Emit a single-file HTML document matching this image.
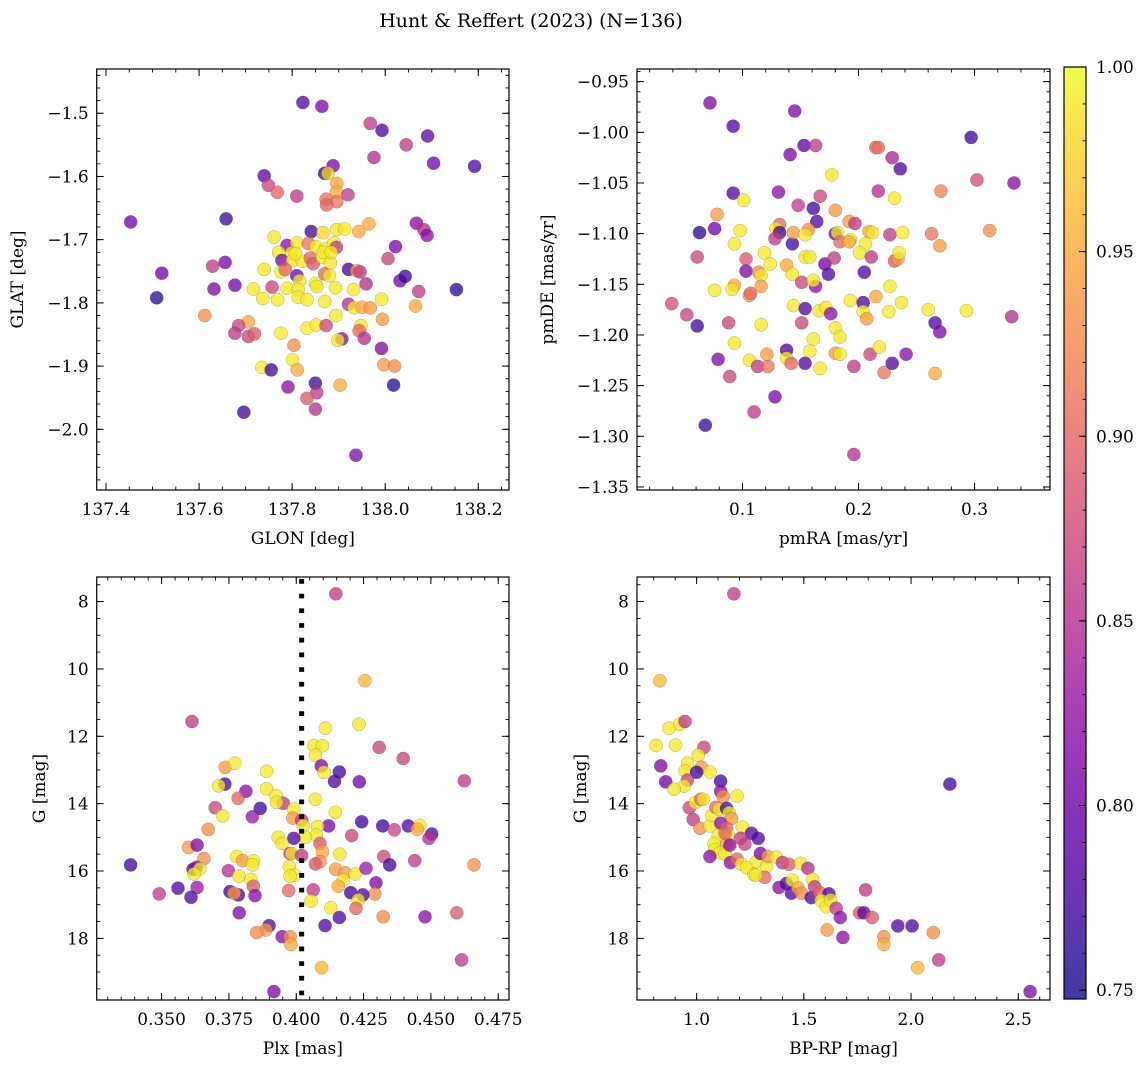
<!DOCTYPE html>
<html><head><meta charset="utf-8"><title>Hunt & Reffert (2023)</title>
<style>
html,body{margin:0;padding:0;background:#fff;}
svg{display:block;font-family:"DejaVu Serif","Liberation Serif",serif;}
</style></head>
<body>
<svg id="fig" xmlns="http://www.w3.org/2000/svg" width="1148" height="1067" viewBox="0 0 1148 1067">
<defs>
<linearGradient id="plasma" x1="0" y1="1" x2="0" y2="0">
<stop offset="0" stop-color="#0d0887"/><stop offset="0.1" stop-color="#41049d"/><stop offset="0.2" stop-color="#6a00a8"/><stop offset="0.3" stop-color="#8f0da4"/><stop offset="0.4" stop-color="#b12a90"/><stop offset="0.5" stop-color="#cc4778"/><stop offset="0.6" stop-color="#e16462"/><stop offset="0.7" stop-color="#f2844b"/><stop offset="0.8" stop-color="#fca636"/><stop offset="0.9" stop-color="#fcce25"/><stop offset="1" stop-color="#f0f921"/>
</linearGradient>
</defs>
<text x="531" y="27" text-anchor="middle" font-size="19">Hunt &amp; Reffert (2023) (N=136)</text>
</svg>
<script>
// ---------- Panel 1: GLON vs GLAT ----------
const p1Lon=[137.823,137.864,137.968,137.993,138.091,138.045,137.976,138.104,138.192,137.888,137.870,137.877,137.740,137.749,137.768,137.810,137.896,137.895,137.873,137.896,137.874,137.920,137.453,137.658,137.841,137.866,137.896,137.913,137.943,137.965,137.761,137.789,137.810,137.835,137.851,137.872,137.890,137.895,137.771,137.799,138.022,138.067,138.083,138.090,137.778,137.801,137.822,137.839,137.845,137.865,137.882,138.006,137.740,137.629,137.656,137.520,137.776,137.810,137.816,137.870,137.880,137.921,137.939,137.946,137.959,138.032,138.043,137.632,137.677,137.717,137.757,137.789,137.813,137.850,137.853,137.893,137.932,138.072,138.153,137.509,137.737,137.769,137.813,137.832,137.870,137.921,137.933,137.950,137.968,137.992,138.065,137.612,137.894,137.994,137.706,137.685,137.677,137.706,137.719,137.776,137.832,137.852,137.873,137.948,137.944,137.955,137.907,137.898,137.804,137.992,137.801,137.811,137.735,137.755,137.997,138.020,137.791,137.850,137.853,137.832,137.850,137.903,138.018,137.696,137.937,137.807,137.867,137.884,137.785];
const p1Lat=[-1.483,-1.489,-1.516,-1.527,-1.536,-1.550,-1.570,-1.579,-1.584,-1.583,-1.595,-1.595,-1.599,-1.614,-1.625,-1.631,-1.611,-1.625,-1.636,-1.640,-1.645,-1.629,-1.672,-1.667,-1.687,-1.689,-1.684,-1.683,-1.687,-1.675,-1.696,-1.709,-1.705,-1.706,-1.711,-1.714,-1.705,-1.712,-1.720,-1.721,-1.711,-1.674,-1.684,-1.693,-1.733,-1.733,-1.734,-1.729,-1.738,-1.728,-1.737,-1.730,-1.747,-1.742,-1.736,-1.753,-1.751,-1.757,-1.765,-1.754,-1.757,-1.747,-1.749,-1.751,-1.770,-1.765,-1.758,-1.778,-1.772,-1.778,-1.775,-1.777,-1.779,-1.769,-1.774,-1.776,-1.779,-1.782,-1.779,-1.792,-1.793,-1.795,-1.791,-1.795,-1.798,-1.802,-1.808,-1.807,-1.808,-1.794,-1.805,-1.820,-1.820,-1.826,-1.830,-1.836,-1.848,-1.853,-1.849,-1.848,-1.840,-1.835,-1.836,-1.836,-1.844,-1.856,-1.857,-1.859,-1.867,-1.872,-1.890,-1.906,-1.902,-1.906,-1.898,-1.900,-1.933,-1.927,-1.942,-1.951,-1.968,-1.930,-1.930,-1.973,-2.041,-1.722,-1.720,-1.720,-1.747];
const p1Prob=[.78,.81,.86,.78,.79,.86,.85,.80,.78,.81,.76,.98,.79,.87,.90,.86,.95,.95,.91,.91,.90,.86,.80,.77,.77,.98,.99,.99,.95,.95,.99,.82,.99,.91,.99,.99,.99,.86,.99,.99,.81,.82,.85,.82,.81,.99,.99,.90,.89,.99,.99,.87,.99,.86,.81,.80,.99,.80,.99,.90,.99,.77,.94,.86,.85,.80,.77,.81,.80,.99,.87,.99,.99,.99,.99,.99,.99,.86,.76,.76,.99,.99,.99,.99,.99,.85,.99,.95,.94,.99,.95,.93,.99,.94,.95,.87,.86,.87,.89,.99,.99,.99,.87,.99,.90,.85,.82,.99,.93,.81,.99,.95,.99,.77,.94,.93,.82,.77,.86,.89,.85,.95,.76,.77,.81,.99,.99,.99,.90];
const p1XTicks=[137.4,137.6,137.8,138.0,138.2];
const p1YTicks=[-1.5,-1.6,-1.7,-1.8,-1.9,-2.0];

// ---------- Panel 2: pmRA vs pmDE ----------
const p2Ra=[.072,.092,.145,.153,.163,.141,.215,.217,.229,.236,.297,.177,.302,.334,.271,.217,.092,.131,.101,.167,.148,.161,.164,.180,.231,.078,.063,.076,.098,.093,.132,.129,.132,.128,.143,.144,.157,.154,.192,.197,.180,.182,.184,.193,.192,.209,.212,.206,.227,.238,.263,.270,.313,.061,.103,.119,.124,.103,.114,.116,.116,.093,.091,.076,.106,.107,.138,.143,.151,.154,.158,.163,.161,.171,.174,.179,.201,.205,.211,.231,.234,.235,.227,.039,.052,.061,.088,.116,.093,.079,.089,.106,.113,.122,.121,.138,.138,.142,.154,.144,.154,.151,.166,.172,.176,.161,.158,.167,.180,.184,.180,.184,.193,.204,.204,.207,.215,.226,.237,.196,.210,.218,.222,.229,.241,.260,.266,.266,.270,.293,.332,.128,.110,.068,.196];
const p2De=[-.971,-.994,-.979,-1.013,-1.013,-1.022,-1.015,-1.015,-1.025,-1.036,-1.005,-1.042,-1.047,-1.050,-1.058,-1.058,-1.060,-1.059,-1.067,-1.063,-1.072,-1.075,-1.088,-1.077,-1.065,-1.081,-1.099,-1.095,-1.097,-1.110,-1.091,-1.095,-1.099,-1.105,-1.110,-1.099,-1.096,-1.101,-1.088,-1.090,-1.100,-1.099,-1.108,-1.106,-1.108,-1.098,-1.099,-1.110,-1.101,-1.099,-1.100,-1.112,-1.097,-1.123,-1.125,-1.119,-1.130,-1.137,-1.138,-1.141,-1.152,-1.151,-1.155,-1.156,-1.161,-1.159,-1.131,-1.140,-1.148,-1.123,-1.123,-1.152,-1.146,-1.130,-1.140,-1.124,-1.119,-1.138,-1.123,-1.127,-1.125,-1.119,-1.152,-1.169,-1.180,-1.191,-1.188,-1.190,-1.208,-1.224,-1.241,-1.225,-1.231,-1.231,-1.219,-1.215,-1.223,-1.228,-1.228,-1.171,-1.174,-1.188,-1.176,-1.173,-1.179,-1.204,-1.216,-1.233,-1.193,-1.202,-1.218,-1.219,-1.166,-1.168,-1.177,-1.184,-1.162,-1.177,-1.168,-1.231,-1.219,-1.212,-1.237,-1.228,-1.219,-1.175,-1.238,-1.188,-1.197,-1.176,-1.182,-1.261,-1.276,-1.289,-1.318];
const p2Prob=[.81,.78,.81,.79,.86,.81,.90,.91,.84,.78,.77,.99,.88,.82,.92,.85,.78,.82,.99,.87,.86,.77,.78,.94,.99,.94,.76,.80,.99,.99,.90,.99,.77,.86,.77,.94,.93,.99,.94,.86,.80,.99,.90,.99,.95,.95,.99,.99,.86,.99,.91,.94,.93,.87,.89,.99,.99,.81,.93,.99,.94,.95,.99,.99,.94,.90,.95,.99,.87,.99,.99,.82,.99,.80,.78,.86,.99,.78,.86,.89,.94,.99,.99,.88,.87,.77,.87,.99,.99,.81,.87,.99,.86,.91,.94,.78,.99,.90,.78,.99,.78,.87,.99,.99,.82,.99,.99,.99,.99,.99,.94,.99,.99,.78,.99,.94,.95,.99,.99,.86,.87,.99,.91,.78,.82,.99,.95,.78,.81,.99,.85,.81,.86,.77,.85];
const p2XTicks=[0.1,0.2,0.3];
const p2YTicks=[-0.95,-1.00,-1.05,-1.10,-1.15,-1.20,-1.25,-1.30,-1.35];

// ---------- Panel 3: Plx vs G ----------
const p3Plx=[.4147,.4255,.3613,.4108,.4233,.4308,.4397,.4624,.4066,.4097,.4071,.4093,.4103,.4160,.4142,.4234,.3736,.3772,.3735,.3712,.3813,.3784,.3890,.3890,.3925,.3952,.3927,.3866,.3699,.3727,.3837,.3991,.3987,.4020,.4071,.4145,.4243,.4321,.4364,.4416,.4459,.4450,.4503,.4493,.4120,.4079,.4026,.4074,.4034,.3991,.3933,.3947,.4206,.3673,.3600,.3632,.3657,.3385,.3617,.3630,.3642,.3620,.3632,.3561,.3491,.3609,.3748,.3779,.3801,.3841,.3838,.3787,.3832,.3841,.3754,.3785,.3769,.3847,.3788,.3977,.3983,.3974,.3995,.3977,.4020,.4088,.4097,.4088,.4071,.4162,.4146,.4181,.4174,.4156,.4219,.4259,.4325,.4347,.4440,.4296,.4292,.4202,.4247,.4230,.4222,.4063,.4055,.4128,.4160,.4107,.4323,.4478,.4596,.4660,.4614,.3972,.3899,.3887,.3853,.3948,.3977,.3980,.4094,.3917];
const p3G=[7.77,10.35,11.56,11.76,11.64,12.33,12.66,13.32,12.28,12.28,12.56,12.88,13.07,13.06,13.34,13.35,12.92,12.80,13.42,13.47,13.63,13.84,13.04,13.56,13.77,13.99,13.96,14.14,14.12,14.36,14.39,14.16,14.43,14.49,13.87,14.26,14.54,14.66,14.78,14.66,14.65,14.76,14.90,15.03,14.66,14.68,14.66,14.93,15.00,15.03,15.00,15.18,14.95,14.76,15.30,15.23,15.63,15.82,15.95,15.89,15.94,16.09,16.49,16.51,16.68,16.78,15.99,15.57,15.69,15.70,15.82,16.15,16.25,16.45,16.61,16.71,16.66,16.73,17.24,15.48,15.48,15.87,16.12,16.15,15.54,15.18,15.43,15.72,15.79,15.50,15.95,16.05,16.27,16.45,16.09,15.92,15.57,15.82,15.69,16.35,16.68,16.64,16.71,16.86,17.11,16.56,16.89,17.09,17.38,17.62,17.36,17.36,17.24,15.82,18.64,16.58,17.62,17.75,17.83,17.95,17.95,18.18,18.87,19.58];
const p3Prob=[.86,.96,.86,.99,.99,.87,.87,.86,.99,.99,.99,.81,.99,.77,.78,.80,.94,.99,.77,.99,.82,.90,.99,.99,.99,.86,.99,.77,.87,.99,.83,.99,.94,.86,.99,.99,.77,.77,.87,.78,.99,.95,.78,.85,.81,.99,.99,.99,.99,.78,.99,.99,.87,.93,.94,.81,.93,.77,.78,.81,.99,.99,.83,.78,.86,.78,.85,.99,.94,.99,.99,.99,.99,.89,.77,.78,.94,.82,.81,.85,.99,.99,.99,.99,.86,.89,.95,.93,.89,.99,.94,.94,.99,.95,.99,.83,.87,.77,.86,.81,.93,.77,.78,.99,.90,.86,.99,.99,.78,.78,.93,.82,.89,.93,.86,.90,.78,.94,.93,.82,.93,.95,.96,.81];
const p3XTicks=[0.350,0.375,0.400,0.425,0.450,0.475];
const p3YTicks=[8,10,12,14,16,18];
const plxRef=[0.402];

// ---------- Panel 4: BP-RP vs G ----------
const p4Col=[1.174,.829,.811,.871,.922,.946,.902,1.034,1.008,.833,.856,.958,.946,1.023,1.0,1.062,.957,.941,.895,1.112,1.112,1.124,1.189,.966,.994,1.019,1.031,.984,1.016,1.062,1.071,1.09,1.105,1.14,1.152,1.163,1.113,1.14,1.101,1.147,1.081,1.14,1.085,1.109,1.133,1.155,1.214,1.256,1.287,1.225,1.205,1.158,1.189,1.209,1.233,1.267,1.279,1.298,1.326,1.318,1.333,1.372,1.40,1.431,1.485,1.519,1.384,1.419,1.442,1.446,1.473,1.488,1.535,1.541,1.550,1.574,1.617,1.581,1.605,1.625,1.651,1.670,1.682,1.609,1.760,1.780,1.788,1.819,1.873,1.873,1.938,2.005,2.031,2.104,2.129,2.181,2.555,1.276,1.132,1.062];
const p4G=[7.77,10.35,12.27,11.76,11.64,11.56,12.26,12.33,12.56,12.88,13.35,12.80,13.03,12.92,13.07,13.06,13.30,13.48,13.57,13.33,13.63,13.79,13.77,14.12,13.97,13.87,13.87,14.47,14.73,14.66,14.35,14.11,14.17,14.14,14.27,14.44,14.58,14.73,14.95,14.93,15.18,15.21,15.36,15.46,15.50,15.23,14.70,14.88,15.03,15.20,15.03,15.75,15.65,15.80,15.90,16.10,15.72,15.48,15.87,16.19,15.57,15.59,15.75,15.80,15.77,15.92,16.49,16.37,16.66,16.27,16.50,16.66,16.79,16.25,16.47,16.64,16.68,16.88,17.06,16.86,17.11,17.38,17.97,17.75,17.24,17.24,16.56,17.38,17.95,18.18,17.63,17.63,18.87,17.83,18.64,13.42,19.58,16.12,14.88,15.57];
const p4Prob=[.86,.96,.99,.99,.99,.86,.99,.87,.99,.81,.80,.99,.99,.94,.77,.99,.87,.99,.99,.77,.82,.93,.99,.87,.99,.90,.99,.86,.93,.99,.99,.90,.99,.77,.99,.94,.82,.90,.99,.99,.99,.95,.99,.99,.99,.82,.99,.78,.78,.87,.86,.82,.90,.99,.99,.99,.99,.81,.99,.90,.94,.99,.86,.89,.99,.85,.82,.78,.78,.99,.95,.93,.78,.99,.86,.90,.78,.99,.99,.99,.86,.82,.82,.94,.89,.79,.86,.89,.93,.95,.78,.78,.96,.93,.86,.77,.81,.99,.90,.82];
const p4XTicks=[1.0,1.5,2.0,2.5];
const p4YTicks=[8,10,12,14,16,18];

// ---------- Colorbar ----------
const cbTicks=[0.75,0.80,0.85,0.90,0.95,1.00];
const cbRange=[0.7476,1.0];

const NS="http://www.w3.org/2000/svg";
const svg=document.getElementById('fig');
function mk(tag,attrs,parent){const e=document.createElementNS(NS,tag);for(const k in attrs)e.setAttribute(k,attrs[k]);(parent||svg).appendChild(e);return e;}
const plasmaStops=[[13,8,135],[65,4,157],[106,0,168],[143,13,164],[177,42,144],[204,71,120],[225,100,98],[242,132,75],[252,166,54],[252,206,37],[240,249,33]];
function plasma(t){t=Math.max(0,Math.min(1,t))*10;const i=Math.min(9,Math.floor(t)),f=t-i;const a=plasmaStops[i],b=plasmaStops[i+1];return 'rgb('+a.map((v,k)=>Math.round(v+(b[k]-v)*f)).join(',')+')';}
function fmt(v,d){return (v<0?'\u2212':'')+Math.abs(v).toFixed(d);}
const FS=17;

function panel(cfg){
  const {name,L,R,T,B,xr,yr,xs,ys,cs,xt,yt,xd,yd,xmin,ymin,xlab,ylab,ylabX}=cfg;
  const g=mk('g',{});
  
  
  const sx=v=>L+(v-xr[0])/(xr[1]-xr[0])*(R-L);
  const sy=v=>T+(v-yr[0])/(yr[1]-yr[0])*(B-T);
  const pg=mk('g',{},g);
  
  
  const n=Math.min(xs.length,ys.length,cs.length);
  for(let i=0;i<n;i++){
    const c=mk('circle',{cx:sx(xs[i]).toFixed(1),cy:sy(ys[i]).toFixed(1),r:6.6,fill:plasma((cs[i]-cbRange[0])/(cbRange[1]-cbRange[0])),'fill-opacity':0.76,stroke:'#444','stroke-opacity':0.4,'stroke-width':0.5},pg);
    
    
  }
  if(cfg.extra)cfg.extra(g,sx,sy);
  const fr=mk('rect',{x:L,y:T,width:R-L,height:B-T,fill:'none',stroke:'#000','stroke-width':1.2},g);
  
  
  const lo=Math.min(xr[0],xr[1]),hi=Math.max(xr[0],xr[1]);
  for(let v=Math.ceil(lo/xmin-1e-6)*xmin;v<=hi+1e-9;v+=xmin){const x=sx(v);mk('line',{x1:x,x2:x,y1:B,y2:B-3.5,stroke:'#000','stroke-width':0.9},g);mk('line',{x1:x,x2:x,y1:T,y2:T+3.5,stroke:'#000','stroke-width':0.9},g);}
  const ylo=Math.min(yr[0],yr[1]),yhi=Math.max(yr[0],yr[1]);
  for(let v=Math.ceil(ylo/ymin-1e-6)*ymin;v<=yhi+1e-9;v+=ymin){const y=sy(v);mk('line',{x1:L,x2:L+3.5,y1:y,y2:y,stroke:'#000','stroke-width':0.9},g);mk('line',{x1:R,x2:R-3.5,y1:y,y2:y,stroke:'#000','stroke-width':0.9},g);}
  xt.forEach(v=>{const x=sx(v);mk('line',{x1:x,x2:x,y1:B,y2:B-7,stroke:'#000','stroke-width':1},g);mk('line',{x1:x,x2:x,y1:T,y2:T+7,stroke:'#000','stroke-width':1},g);
    const t=mk('text',{x:x,y:B+25,'text-anchor':'middle','font-size':FS},g);t.textContent=fmt(v,xd);
    
    });
  yt.forEach(v=>{const y=sy(v);mk('line',{x1:L,x2:L+7,y1:y,y2:y,stroke:'#000','stroke-width':1},g);mk('line',{x1:R,x2:R-7,y1:y,y2:y,stroke:'#000','stroke-width':1},g);
    const t=mk('text',{x:L-8,y:y+6,'text-anchor':'end','font-size':FS},g);t.textContent=fmt(v,yd);
    
    });
  const xl=mk('text',{x:(L+R)/2,y:B+54,'text-anchor':'middle','font-size':FS},g);xl.textContent=xlab;
  
  
  const yy=(T+B)/2;
  const yl=mk('text',{x:ylabX,y:yy,'text-anchor':'middle','font-size':FS,transform:'rotate(-90 '+ylabX+' '+yy+')'},g);yl.textContent=ylab;
  
  
}

panel({name:'glon-glat',L:96.7,R:509,T:69,B:490,xr:[137.380,138.266],yr:[-1.430,-2.096],xs:p1Lon,ys:p1Lat,cs:p1Prob,xt:p1XTicks,yt:p1YTicks,xd:1,yd:1,xmin:0.05,ymin:0.02,xlab:'GLON [deg]',ylab:'GLAT [deg]',ylabX:23});
panel({name:'pm',L:637,R:1050,T:69,B:490,xr:[0.0091,0.365],yr:[-0.9375,-1.353],xs:p2Ra,ys:p2De,cs:p2Prob,xt:p2XTicks,yt:p2YTicks,xd:1,yd:2,xmin:0.02,ymin:0.01,xlab:'pmRA [mas/yr]',ylab:'pmDE [mas/yr]',ylabX:553});
panel({name:'plx-g',L:96.7,R:509,T:577,B:1000,xr:[0.3259,0.479],yr:[7.27,19.83],xs:p3Plx,ys:p3G,cs:p3Prob,xt:p3XTicks,yt:p3YTicks,xd:3,yd:0,xmin:0.005,ymin:0.5,xlab:'Plx [mas]',ylab:'G [mag]',ylabX:45,
  extra:(g,sx,sy)=>{plxRef.forEach(v=>{const l=mk('line',{x1:sx(v),x2:sx(v),y1:579,y2:1000,stroke:'#000','stroke-width':5,'stroke-dasharray':'4.7 10'},g);
    
    });}});
panel({name:'cmd',L:637,R:1050,T:577,B:1000,xr:[0.722,2.648],yr:[7.27,19.83],xs:p4Col,ys:p4G,cs:p4Prob,xt:p4XTicks,yt:p4YTicks,xd:1,yd:0,xmin:0.1,ymin:0.5,xlab:'BP-RP [mag]',ylab:'G [mag]',ylabX:586});

// colorbar
(function(){
  const L=1064,R=1086,T=67,B=999;
  const g=mk('g',{});
  
  
  const r=mk('rect',{x:L,y:T,width:R-L,height:B-T,fill:'url(#plasma)','fill-opacity':0.8,stroke:'#000','stroke-width':1.2},g);
  
  
  const sy=v=>B-(v-cbRange[0])/(cbRange[1]-cbRange[0])*(B-T);
  for(let v=0.75;v<=1.0001;v+=0.01){const y=sy(v);mk('line',{x1:R,x2:R-3.5,y1:y,y2:y,stroke:'#000','stroke-width':0.9},g);}
  cbTicks.forEach(v=>{const y=sy(v);mk('line',{x1:R,x2:R-7,y1:y,y2:y,stroke:'#000','stroke-width':1},g);
    const t=mk('text',{x:R+10,y:y+6,'font-size':FS},g);t.textContent=v.toFixed(2);
    
    });
})();
</script>
</body></html>
